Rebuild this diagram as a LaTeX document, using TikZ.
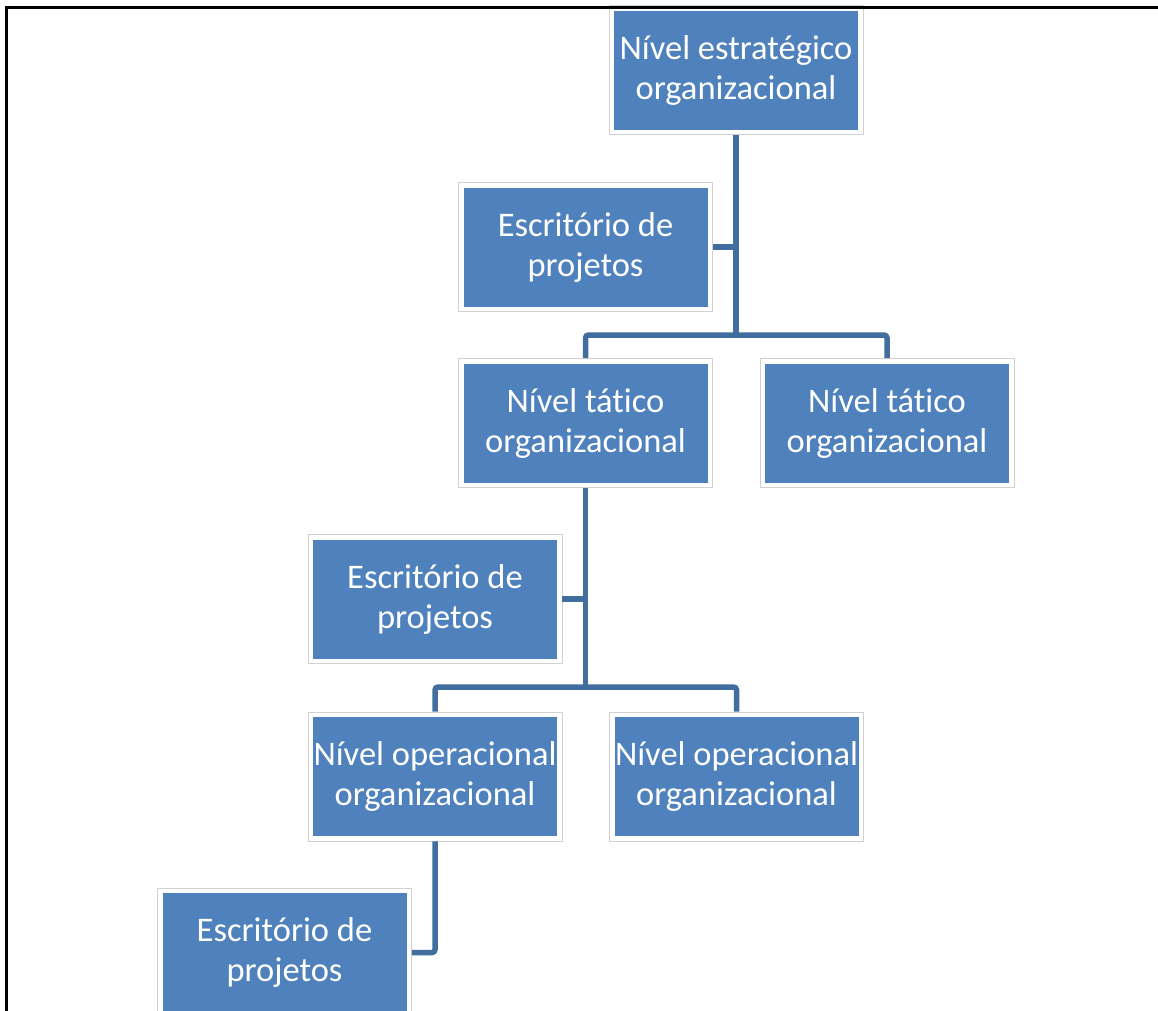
\documentclass[tikz,border=0pt]{standalone}
\usepackage{fontspec}
\setmainfont[Ligatures=NoCommon]{Carlito}
\definecolor{boxblue}{HTML}{4F81BD}
\definecolor{connblue}{HTML}{416E9F}
\newcommand{\boxfont}{\fontsize{34.5}{40}\selectfont}
\tikzset{
  orgbox/.style={minimum width=254pt, minimum height=129pt, draw=black!18, line width=0.8pt,
    fill=white, inner sep=0pt, align=center, text=white, font=\boxfont,
    path picture={\fill[boxblue] ([shift={(5pt,-5pt)}]path picture bounding box.north west)
      rectangle ([shift={(-5pt,5pt)}]path picture bounding box.south east);}},
  conn/.style={draw=connblue, line width=5.5pt, rounded corners=3pt}
}
\begin{document}
\begin{tikzpicture}[x=1pt,y=-1pt]
\clip (0,0) rectangle (1158,1010);
\fill[white] (0,0) rectangle (1158,1010);
\coordinate (h1) at (736,335);
\coordinate (h2) at (585.5,687);
\node[orgbox] (strat) at (736,70) {Nível estratégico\\organizacional};
\node[orgbox] (esc1) at (585.5,247) {Escritório de\\projetos};
\node[orgbox] (tat1) at (585.5,423) {Nível tático\\organizacional};
\node[orgbox] (tat2) at (887,423) {Nível tático\\organizacional};
\node[orgbox] (esc2) at (435,599) {Escritório de\\projetos};
\node[orgbox] (op1) at (435,776.5) {Nível operacional\\organizacional};
\node[orgbox] (op2) at (736.5,776.5) {Nível operacional\\organizacional};
\node[orgbox] (esc3) at (284.5,952.5) {Escritório de\\projetos};
\draw[conn] (strat.south) -- (h1);
\draw[conn] (esc1.east) -- (esc1.east -| h1);
\draw[conn] (tat1.north) -- (tat1.north |- h1) -- (tat2.north |- h1) -- (tat2.north);
\draw[conn] (tat1.south) -- (h2);
\draw[conn] (esc2.east) -- (esc2.east -| h2);
\draw[conn] (op1.north) -- (op1.north |- h2) -- (op2.north |- h2) -- (op2.north);
\draw[conn] (op1.south) -- (op1.south |- esc3.east) -- (esc3.east);
\draw[line width=3pt, line cap=rect] (6.5,1012) -- (6.5,7.5) -- (1160,7.5);
\end{tikzpicture}
\end{document}
